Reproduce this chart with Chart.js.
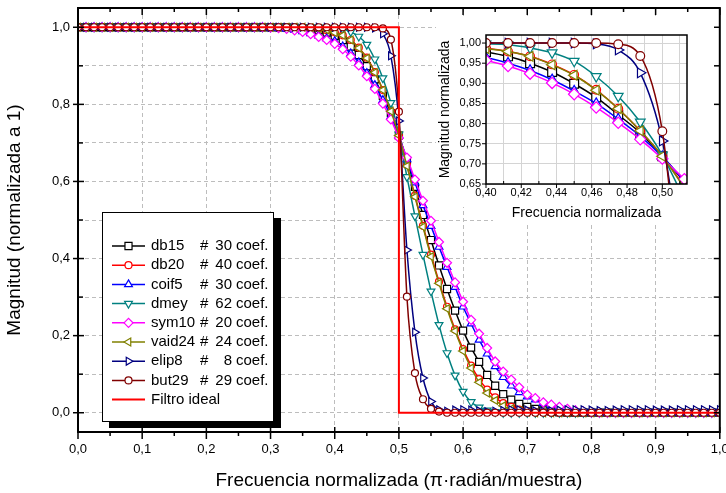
<!DOCTYPE html>
<html>
<head>
<meta charset="utf-8">
<script src="https://cdn.jsdelivr.net/npm/chart.js@4.4.1/dist/chart.umd.min.js"></script>
<style>
  body { margin: 0; background: #fff; }
  #wrap { position: relative; width: 726px; height: 493px; }
  #main { position: absolute; left: 0; top: 0; }
  #inset { position: absolute; left: 432px; top: 16px; }
</style>
</head>
<body>
<div id="wrap">
  <canvas id="main" width="726" height="493"></canvas>
  <canvas id="inset" width="282" height="214"></canvas>
</div>
<script>
// sample grid (normalized frequency)
const freq = [
  0, 0.0125, 0.025, 0.0375, 0.05, 0.0625, 0.075, 0.0875, 0.1, 0.1125,
  0.125, 0.1375, 0.15, 0.1625, 0.175, 0.1875, 0.2, 0.2125, 0.225, 0.2375,
  0.25, 0.2625, 0.275, 0.2875, 0.3, 0.3125, 0.325, 0.3375, 0.35, 0.3625,
  0.375, 0.3875, 0.4, 0.4125, 0.425, 0.4375, 0.45, 0.4625, 0.475, 0.4875,
  0.5, 0.5125, 0.525, 0.5375, 0.55, 0.5625, 0.575, 0.5875, 0.6, 0.6125,
  0.625, 0.6375, 0.65, 0.6625, 0.675, 0.6875, 0.7, 0.7125, 0.725, 0.7375,
  0.75, 0.7625, 0.775, 0.7875, 0.8, 0.8125, 0.825, 0.8375, 0.85, 0.8625,
  0.875, 0.8875, 0.9, 0.9125, 0.925, 0.9375, 0.95, 0.9625, 0.975, 0.9875,
  1
];

const db15 = [
  1, 1, 1, 1, 1, 1, 1, 1, 1, 1,
  1, 1, 1, 1, 1, 1, 1, 1, 1, 1,
  1, 1, 1, 1, 1, 1, 1, 0.999, 0.998, 0.996,
  0.992, 0.986, 0.978, 0.967, 0.950, 0.928, 0.899, 0.865, 0.822, 0.777,
  0.719, 0.655, 0.586, 0.513, 0.448, 0.382, 0.321, 0.265, 0.213, 0.169,
  0.132, 0.098, 0.070, 0.048, 0.034, 0.023, 0.015, 0.010, 0.006, 0.003,
  0.001, 0, 0, 0, 0, 0, 0, 0, 0, 0,
  0, 0, 0, 0, 0, 0, 0, 0, 0, 0,
  0
];
const db20 = [
  1, 1, 1, 1, 1, 1, 1, 1, 1, 1,
  1, 1, 1, 1, 1, 1, 1, 1, 1, 1,
  1, 1, 1, 1, 1, 1, 1, 1, 1, 0.998,
  0.996, 0.992, 0.987, 0.979, 0.967, 0.947, 0.921, 0.884, 0.837, 0.782,
  0.719, 0.643, 0.563, 0.485, 0.410, 0.340, 0.275, 0.216, 0.165, 0.122,
  0.087, 0.060, 0.040, 0.025, 0.015, 0.008, 0.004, 0.002, 0.001, 0,
  0, 0, 0, 0, 0, 0, 0, 0, 0, 0,
  0, 0, 0, 0, 0, 0, 0, 0, 0, 0,
  0
];
const coif5 = [
  1, 1, 1, 1, 1, 1, 1, 1, 1, 1,
  1, 1, 1, 1, 1, 1, 1, 1, 1, 1,
  1, 1, 1, 1, 0.999, 0.998, 0.996, 0.993, 0.989, 0.984,
  0.978, 0.971, 0.964, 0.950, 0.932, 0.909, 0.881, 0.850, 0.811, 0.769,
  0.718, 0.657, 0.597, 0.538, 0.484, 0.430, 0.378, 0.326, 0.275, 0.231,
  0.189, 0.153, 0.120, 0.092, 0.070, 0.053, 0.042, 0.034, 0.025, 0.019,
  0.013, 0.008, 0.005, 0.002, 0.001, 0, 0, 0, 0, 0,
  0, 0, 0, 0, 0, 0, 0, 0, 0, 0,
  0
];
const dmey = [
  1, 1, 1, 1, 1, 1, 1, 1, 1, 1,
  1, 1, 1, 1, 1, 1, 1, 1, 1, 1,
  1, 1, 1, 1, 1, 1, 1, 1, 1, 1,
  1, 0.999, 0.998, 0.996, 0.988, 0.976, 0.955, 0.917, 0.868, 0.804,
  0.722, 0.612, 0.510, 0.410, 0.315, 0.228, 0.155, 0.097, 0.055, 0.028,
  0.014, 0.006, 0.002, 0, 0, 0, 0, 0, 0, 0,
  0, 0, 0, 0, 0, 0, 0, 0, 0, 0,
  0, 0, 0, 0, 0, 0, 0, 0, 0, 0,
  0
];
const sym10 = [
  1, 1, 1, 1, 1, 1, 1, 1, 1, 1,
  1, 1, 1, 1, 1, 1, 1, 1, 1, 1,
  1, 1, 1, 1, 0.999, 0.998, 0.996, 0.992, 0.988, 0.982,
  0.975, 0.967, 0.957, 0.943, 0.924, 0.901, 0.873, 0.840, 0.802, 0.761,
  0.713, 0.662, 0.605, 0.550, 0.498, 0.443, 0.389, 0.338, 0.288, 0.241,
  0.205, 0.168, 0.133, 0.107, 0.086, 0.066, 0.047, 0.038, 0.027, 0.021,
  0.015, 0.010, 0.006, 0.003, 0.001, 0, 0, 0, 0, 0,
  0, 0, 0, 0, 0, 0, 0, 0, 0, 0,
  0
];
const vaid24 = [
  1, 1, 1, 1, 1, 1, 1, 1, 1, 1,
  1, 1, 1, 1, 1, 1, 1, 1, 1, 1,
  1, 1, 1, 1, 1, 1, 1, 1, 1, 0.999,
  0.997, 0.993, 0.986, 0.979, 0.967, 0.946, 0.920, 0.883, 0.837, 0.782,
  0.719, 0.640, 0.560, 0.482, 0.405, 0.336, 0.270, 0.212, 0.160, 0.116,
  0.079, 0.051, 0.032, 0.018, 0.010, 0.005, 0.002, 0, 0, 0,
  0, 0, 0, 0, 0, 0, 0, 0, 0, 0,
  0, 0, 0, 0, 0, 0, 0, 0, 0, 0,
  0
];
const elip8 = [
  1, 1, 1, 1, 1, 1, 1, 1, 1, 1,
  1, 1, 1, 1, 1, 1, 1, 1, 1, 1,
  1, 1, 1, 1, 1, 1, 1, 1, 1, 1,
  1, 1, 1, 1, 1, 1, 1, 0.998, 0.983, 0.926,
  0.757, 0.422, 0.209, 0.090, 0.029, 0.008, 0.004, 0.007, 0.008, 0.007,
  0.005, 0.003, 0.004, 0.006, 0.008, 0.008, 0.007, 0.005, 0.004, 0.005,
  0.007, 0.008, 0.008, 0.008, 0.007, 0.006, 0.006, 0.007, 0.008, 0.008,
  0.008, 0.008, 0.007, 0.007, 0.007, 0.008, 0.008, 0.008, 0.008, 0.008,
  0.008
];
const but29 = [
  1, 1, 1, 1, 1, 1, 1, 1, 1, 1,
  1, 1, 1, 1, 1, 1, 1, 1, 1, 1,
  1, 1, 1, 1, 1, 1, 1, 1, 1, 1,
  1, 1, 1, 1, 1, 1, 1, 1, 0.997, 0.968,
  0.781, 0.301, 0.103, 0.035, 0.010, 0.003, 0, 0, 0, 0,
  0, 0, 0, 0, 0, 0, 0, 0, 0, 0,
  0, 0, 0, 0, 0, 0, 0, 0, 0, 0,
  0, 0, 0, 0, 0, 0, 0, 0, 0, 0,
  0
];

// ideal brick-wall filter
const idealX = [0, 0.5, 0.5, 1];
const idealY = [1, 1, 0, 0];

const seriesNames = ['db15', 'db20', 'coif5', 'dmey', 'sym10', 'vaid24', 'elip8', 'but29'];
const coefCounts = [30, 40, 30, 62, 20, 24, 8, 29];
const seriesValues = [db15, db20, coif5, dmey, sym10, vaid24, elip8, but29];

// tick lists
const xTicks = [0, 0.1, 0.2, 0.3, 0.4, 0.5, 0.6, 0.7, 0.8, 0.9, 1];
const yTicks = [0, 0.1, 0.2, 0.3, 0.4, 0.5, 0.6, 0.7, 0.8, 0.9, 1];
const insetXTicks = [0.40, 0.41, 0.42, 0.43, 0.44, 0.45, 0.46, 0.47, 0.48, 0.49, 0.50, 0.51];
const insetYTicks = [0.65, 0.70, 0.75, 0.80, 0.85, 0.90, 0.95, 1.00];

// styles
const colors = ['#000000', '#ff0000', '#0000ff', '#008080', '#ff00ff', '#808000', '#000080', '#800000'];
const markerStyle = ['rect', 'circle', 'triangle', 'triangle', 'rectRot', 'triangle', 'triangle', 'circle'];
const markerRot = [0, 0, 0, 180, 0, -90, 90, 0];
const markerSize = [5, 3.5, 4.5, 4.5, 4.5, 4.5, 4.5, 3.5];

const FONT = '"Liberation Sans", Arial, sans-serif';
Chart.defaults.font.family = FONT;
Chart.defaults.color = '#000';

const comma = (v, d) => v.toFixed(d).replace('.', ',');
const toPoints = (xs, ys) => xs.map((x, i) => ({ x: x, y: ys[i] }));

function seriesDataset(i, scale, clip) {
  const ds = {
    label: seriesNames[i],
    data: toPoints(freq, seriesValues[i]),
    borderColor: colors[i],
    backgroundColor: '#fff',
    borderWidth: 1.5,
    pointStyle: markerStyle[i],
    pointRotation: markerRot[i],
    pointRadius: markerSize[i] * scale,
    pointBorderWidth: 1.2,
    pointBackgroundColor: '#fff',
    pointBorderColor: colors[i],
    cubicInterpolationMode: 'monotone',
    order: 8 - i
  };
  if (clip !== undefined) ds.clip = clip;
  return ds;
}

function seg(ctx, x1, y1, x2, y2) {
  ctx.beginPath();
  ctx.moveTo(x1, y1);
  ctx.lineTo(x2, y2);
  ctx.stroke();
}

// frame and tick marks of the main plot
const mainFrame = {
  id: 'mainFrame',
  afterDatasetsDraw(chart) {
    const { ctx, chartArea: a, scales: { x, y } } = chart;
    ctx.save();
    ctx.strokeStyle = '#000';
    ctx.setLineDash([]);
    ctx.lineWidth = 1.5;
    for (let k = 0; k <= 20; k++) {
      const px = x.getPixelForValue(k / 20);
      if (k % 2 === 0) {
        seg(ctx, px, a.bottom - 5, px, a.bottom + 7);
        seg(ctx, px, a.top, px, a.top + 7);
      } else {
        seg(ctx, px, a.bottom, px, a.bottom + 4);
        seg(ctx, px, a.top, px, a.top + 4);
      }
    }
    for (let k = 0; k <= 10; k++) {
      const py = y.getPixelForValue(k / 10);
      if (k % 2 === 0) seg(ctx, a.left - 5, py, a.left + 6, py);
      else seg(ctx, a.left, py, a.left + 5, py);
      seg(ctx, a.right - 6, py, a.right, py);
    }
    ctx.lineWidth = 2;
    ctx.strokeRect(a.left, a.top, a.right - a.left, a.bottom - a.top);
    ctx.restore();
  }
};

// boxed legend with drop shadow
const legendBox = {
  id: 'legendBox',
  afterDraw(chart) {
    const ctx = chart.ctx;
    ctx.save();
    ctx.fillStyle = '#000';
    ctx.fillRect(109, 218, 172, 210);
    ctx.fillStyle = '#fff';
    ctx.fillRect(102, 212, 172, 210);
    ctx.strokeStyle = '#000';
    ctx.lineWidth = 1;
    ctx.strokeRect(102.5, 212.5, 171, 209);
    ctx.font = '15px ' + FONT;
    ctx.textBaseline = 'middle';
    seriesNames.forEach((name, i) => {
      const yy = 246 + i * 19.2;
      ctx.strokeStyle = colors[i];
      ctx.lineWidth = 1.5;
      seg(ctx, 112, yy, 145, yy);
      ctx.lineWidth = 1.2;
      ctx.fillStyle = '#fff';
      Chart.helpers.drawPoint(ctx, {
        pointStyle: markerStyle[i], rotation: markerRot[i],
        radius: markerSize[i], borderWidth: 1.2
      }, 128.5, yy);
      ctx.fillStyle = '#000';
      ctx.textAlign = 'left';
      ctx.fillText(name, 151, yy);
      ctx.fillText('#', 200, yy);
      ctx.textAlign = 'right';
      ctx.fillText(String(coefCounts[i]), 232, yy);
      ctx.textAlign = 'left';
      ctx.fillText('coef.', 236, yy);
    });
    const yi = 246 + 8 * 19.2;
    ctx.strokeStyle = '#ff0000';
    ctx.lineWidth = 2;
    seg(ctx, 112, yi, 145, yi);
    ctx.fillStyle = '#000';
    ctx.fillText('Filtro ideal', 151, yi);
    ctx.restore();
  }
};

const mainDatasets = seriesNames.map((_, i) => seriesDataset(i, 1));
mainDatasets.push({
  label: 'Filtro ideal',
  data: toPoints(idealX, idealY),
  borderColor: '#ff0000',
  borderWidth: 2,
  pointRadius: 0,
  tension: 0,
  order: -1
});

new Chart(document.getElementById('main'), {
  type: 'line',
  data: { datasets: mainDatasets },
  options: {
    responsive: false,
    animation: false,
    devicePixelRatio: 1,
    layout: { padding: { top: 8, right: 6, left: 0, bottom: 0 } },
    plugins: { legend: { display: false }, tooltip: { enabled: false } },
    scales: {
      x: {
        type: 'linear', min: 0, max: 1,
        afterBuildTicks: s => { s.ticks = xTicks.map(v => ({ value: v })); },
        ticks: { autoSkip: false, maxRotation: 0, padding: 10, font: { size: 13 }, callback: v => comma(v, 1) },
        grid: { color: '#bdbdbd', drawTicks: false },
        border: { display: false, dash: [4, 3] },
        title: { display: true, text: 'Frecuencia normalizada (π·radián/muestra)', font: { size: 19 }, padding: { top: 0, bottom: 1 } },
        afterFit: s => { s.height = 61; s.paddingLeft = 0; s.paddingRight = 0; }
      },
      y: {
        type: 'linear', min: -0.05, max: 1.05,
        afterBuildTicks: s => { s.ticks = yTicks.map(v => ({ value: v })); },
        ticks: { autoSkip: false, padding: 8, font: { size: 13 },
                 callback: v => (Math.round(v * 10) % 2 === 0 ? comma(v, 1) : '') },
        grid: { color: '#bdbdbd', drawTicks: false },
        border: { display: false, dash: [4, 3] },
        title: { display: true, text: 'Magnitud (normalizada a 1)', font: { size: 19 }, padding: { top: 3, bottom: 0 } },
        afterFit: s => { s.width = 78; s.paddingTop = 0; s.paddingBottom = 0; }
      }
    }
  },
  plugins: [mainFrame, legendBox]
});

// inset: zoom on the pass-band edge
const insetBackground = {
  id: 'insetBackground',
  beforeDraw(chart) {
    const ctx = chart.ctx;
    ctx.save();
    ctx.fillStyle = '#fff';
    ctx.fillRect(4, 0, 278, 191);
    ctx.fillRect(61, 191, 221, 16);
    ctx.restore();
  }
};

const insetFrame = {
  id: 'insetFrame',
  afterDatasetsDraw(chart) {
    const { ctx, chartArea: a, scales: { x, y } } = chart;
    ctx.save();
    ctx.strokeStyle = '#000';
    ctx.lineWidth = 1;
    insetXTicks.forEach((v, i) => {
      const px = x.getPixelForValue(v);
      if (i % 2 === 0) seg(ctx, px, a.bottom, px, a.bottom + 4);
      else seg(ctx, px, a.bottom, px, a.bottom - 3);
    });
    insetYTicks.forEach(v => {
      const py = y.getPixelForValue(v);
      seg(ctx, a.left - 4, py, a.left, py);
    });
    ctx.lineWidth = 1.5;
    ctx.strokeRect(a.left, a.top, a.right - a.left, a.bottom - a.top);
    ctx.restore();
  }
};

new Chart(document.getElementById('inset'), {
  type: 'line',
  data: { datasets: seriesNames.map((_, i) => seriesDataset(i, 1.25, 0)) },
  options: {
    responsive: false,
    animation: false,
    devicePixelRatio: 1,
    layout: { padding: { top: 19, right: 27, left: 0, bottom: 0 } },
    plugins: { legend: { display: false }, tooltip: { enabled: false } },
    scales: {
      x: {
        type: 'linear', min: 0.4, max: 0.514,
        afterBuildTicks: s => { s.ticks = insetXTicks.map(v => ({ value: v })); },
        ticks: { autoSkip: false, maxRotation: 0, padding: 2, font: { size: 11 },
                 callback: v => (Math.round(v * 100) % 2 === 0 ? comma(v, 2) : '') },
        grid: { color: '#d4d4d4', drawTicks: false },
        border: { display: false },
        title: { display: true, text: 'Frecuencia normalizada', font: { size: 14 }, padding: { top: 0, bottom: 8 } },
        afterFit: s => { s.height = 46; s.paddingLeft = 0; s.paddingRight = 0; }
      },
      y: {
        type: 'linear', min: 0.65, max: 1.02,
        afterBuildTicks: s => { s.ticks = insetYTicks.map(v => ({ value: v })); },
        ticks: { autoSkip: false, padding: 5, font: { size: 11 }, callback: v => comma(v, 2) },
        grid: { color: '#d4d4d4', drawTicks: false },
        border: { display: false },
        title: { display: true, text: 'Magnitud normalizada', font: { size: 14 }, padding: { top: 5, bottom: 0 } },
        afterFit: s => { s.width = 54; s.paddingTop = 0; s.paddingBottom = 0; }
      }
    }
  },
  plugins: [insetBackground, insetFrame]
});
</script>
</body>
</html>
